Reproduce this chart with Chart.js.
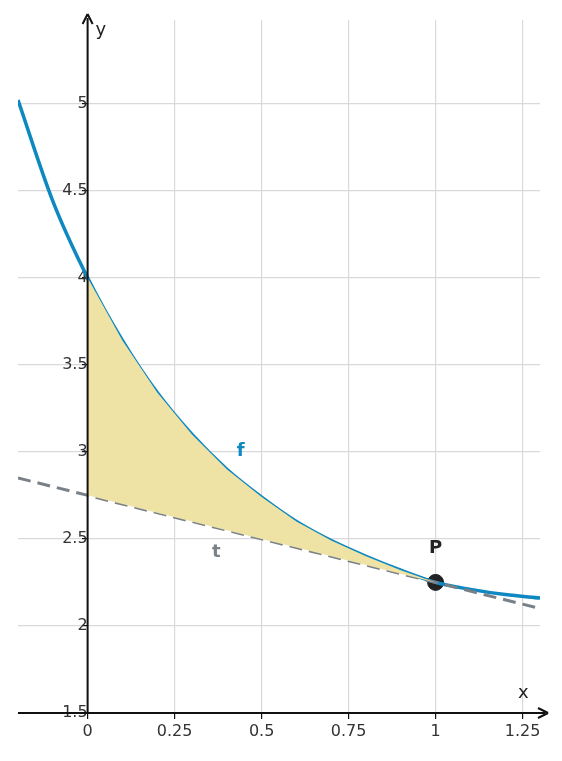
<!DOCTYPE html>
<html><head><meta charset="utf-8">
<script src="https://cdn.jsdelivr.net/npm/chart.js@4"></script>
<style>html,body{margin:0;background:#fff}#w{width:562px;height:761px}</style>
</head><body><div id="w"><canvas id="c"></canvas></div>
<script>
const xs = [-0.2,-0.1,0,0.1,0.2,0.3,0.4,0.5,0.6,0.7,0.8,0.9,1.0,1.1,1.2,1.3];
const fVals = [5.02,4.44,4.0,3.64,3.34,3.10,2.90,2.74,2.60,2.49,2.40,2.32,2.25,2.21,2.18,2.16];
const tX = [-0.2,1.3];
const tVals = [2.85,2.10];
const areaX = [0,0.1,0.2,0.3,0.4,0.5,0.6,0.7,0.8,0.9,1.0];
const areaF = [4.0,3.64,3.34,3.10,2.90,2.74,2.60,2.49,2.40,2.32,2.25];
const areaT = [2.75,2.70,2.65,2.60,2.55,2.50,2.45,2.40,2.35,2.30,2.25];
const xTicks = [0,0.25,0.5,0.75,1,1.25];
const yTicks = [1.5,2,2.5,3,3.5,4,4.5,5];
const P = {x:1,y:2.25};
const pts=(a,b)=>a.map((x,i)=>({x,y:b[i]}));
const FONT='"DejaVu Sans"';
const overlay={id:'ov',afterDatasetsDraw(ch){
 const c=ch.ctx,X=ch.scales.x,Y=ch.scales.y;
 const x0=X.getPixelForValue(0),yb=Y.getPixelForValue(1.5);
 const L=ch.chartArea.left,R=ch.chartArea.right,T=ch.chartArea.top;
 c.save();c.strokeStyle='#111';c.fillStyle='#111';c.lineWidth=2;
 c.beginPath();c.moveTo(L,yb);c.lineTo(R+5,yb);c.moveTo(x0,yb);c.lineTo(x0,T-2);c.stroke();
 c.beginPath();c.moveTo(R+8,yb);c.lineTo(R-2,yb-5);c.moveTo(R+8,yb);c.lineTo(R-2,yb+5);
 c.moveTo(x0,T-6);c.lineTo(x0-5,T+4);c.moveTo(x0,T-6);c.lineTo(x0+5,T+4);c.stroke();
 c.font='18px '+FONT;c.fillStyle='#222';c.textBaseline='middle';
 c.fillText('y',x0+8,T+10);c.fillText('x',R-22,yb-20);
 c.font='bold 18px '+FONT;c.textAlign='center';
 c.fillStyle='#0d88c0';c.fillText('f',X.getPixelForValue(0.44),Y.getPixelForValue(3.0));
 c.fillStyle='#7a8088';c.fillText('t',X.getPixelForValue(0.37),Y.getPixelForValue(2.42));
 c.fillStyle='#222';c.fillText('P',X.getPixelForValue(P.x),Y.getPixelForValue(P.y)-34);
 c.restore();
}};
new Chart(document.getElementById('c'),{
 type:'scatter',
 data:{datasets:[
  {data:pts(areaX,areaT),showLine:true,borderWidth:0,pointRadius:0,borderColor:'transparent'},
  {data:pts(areaX,areaF),showLine:true,borderWidth:0,pointRadius:0,borderColor:'transparent',fill:{target:0},backgroundColor:'#efe2a5'},
  {data:pts(tX,tVals),showLine:true,borderColor:'#7a8088',borderWidth:3,borderDash:[13,7],pointRadius:0},
  {data:pts(xs,fVals),showLine:true,borderColor:'#0d88c0',borderWidth:3.5,pointRadius:0,cubicInterpolationMode:'monotone'},
  {data:[P],pointRadius:8,pointBackgroundColor:'#222',pointBorderColor:'#222'}
 ]},
 options:{responsive:true,maintainAspectRatio:false,animation:false,
  layout:{padding:{left:18,right:22,top:20,bottom:48}},
  plugins:{legend:{display:false},tooltip:{enabled:false}},
  scales:{
   x:{type:'linear',min:-0.2,max:1.3,position:{y:1.5},
    afterBuildTicks:s=>{s.ticks=xTicks.map(v=>({value:v}))},
    grid:{color:'#d9d9d9',lineWidth:1.2,tickLength:6,tickColor:'#111'},border:{display:false},
    ticks:{font:{family:FONT,size:16},color:'#333',callback:v=>String(v)}},
   y:{type:'linear',min:1.5,max:5.48,position:{x:0},
    afterBuildTicks:s=>{s.ticks=yTicks.map(v=>({value:v}))},
    grid:{color:'#d9d9d9',lineWidth:1.2,tickLength:6,tickColor:'#111'},border:{display:false},
    ticks:{font:{family:FONT,size:16},color:'#333',callback:v=>String(v)}}
  }},
 plugins:[overlay]
});
</script></body></html>
